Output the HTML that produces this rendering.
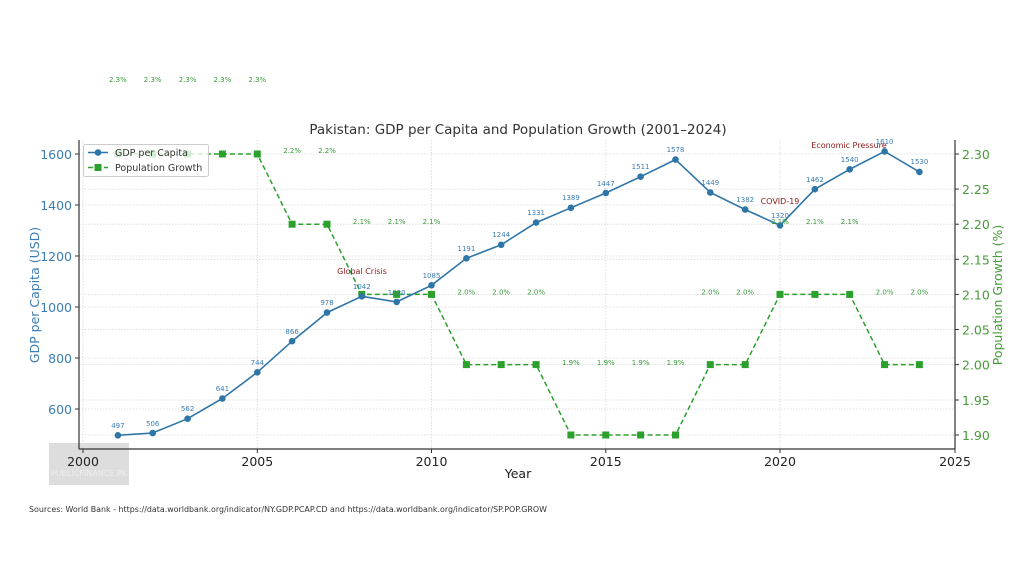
<!DOCTYPE html>
<html><head><meta charset="utf-8"><style>
html,body{margin:0;padding:0;background:#fff;}
svg{display:block;font-family:"DejaVu Sans","Liberation Sans",sans-serif;}
</style></head><body>
<svg width="1024" height="584" viewBox="0 0 1024 584" xmlns="http://www.w3.org/2000/svg">
<rect width="1024" height="584" fill="#fff"/>
<g stroke="#d8d8d8" stroke-width="0.8" stroke-dasharray="1.5,1.5">
<line x1="83" y1="140" x2="83" y2="449"/><line x1="257.3" y1="140" x2="257.3" y2="449"/><line x1="431.5" y1="140" x2="431.5" y2="449"/><line x1="605.8" y1="140" x2="605.8" y2="449"/><line x1="780" y1="140" x2="780" y2="449"/>
<line x1="79" y1="154" x2="955" y2="154"/><line x1="79" y1="205" x2="955" y2="205"/><line x1="79" y1="256" x2="955" y2="256"/><line x1="79" y1="307" x2="955" y2="307"/><line x1="79" y1="358" x2="955" y2="358"/><line x1="79" y1="409" x2="955" y2="409"/>
<line x1="79" y1="435" x2="955" y2="435"/><line x1="79" y1="400" x2="955" y2="400"/><line x1="79" y1="364.6" x2="955" y2="364.6"/><line x1="79" y1="329.5" x2="955" y2="329.5"/><line x1="79" y1="294.4" x2="955" y2="294.4"/><line x1="79" y1="259.3" x2="955" y2="259.3"/><line x1="79" y1="224.2" x2="955" y2="224.2"/><line x1="79" y1="189.1" x2="955" y2="189.1"/>
</g>
<rect x="49" y="443" width="80" height="42" fill="#d4d4d4" opacity="0.8"/>
<text x="89" y="476" font-size="8" fill="#eee" text-anchor="middle">PUBLICFINANCE.PK</text>
<g stroke="#333" stroke-width="1.2" fill="none">
<line x1="79" y1="140" x2="79" y2="449"/><line x1="955" y1="140" x2="955" y2="449"/><line x1="79" y1="449" x2="955" y2="449"/>
</g>
<g stroke="#333" stroke-width="1">
<line x1="83" y1="449" x2="83" y2="453"/><line x1="257.3" y1="449" x2="257.3" y2="453"/><line x1="431.5" y1="449" x2="431.5" y2="453"/><line x1="605.8" y1="449" x2="605.8" y2="453"/><line x1="780" y1="449" x2="780" y2="453"/><line x1="955" y1="449" x2="955" y2="453"/>
<line x1="75" y1="154" x2="79" y2="154"/><line x1="75" y1="205" x2="79" y2="205"/><line x1="75" y1="256" x2="79" y2="256"/><line x1="75" y1="307" x2="79" y2="307"/><line x1="75" y1="358" x2="79" y2="358"/><line x1="75" y1="409" x2="79" y2="409"/>
<line x1="955" y1="435" x2="959" y2="435"/><line x1="955" y1="400" x2="959" y2="400"/><line x1="955" y1="364.6" x2="959" y2="364.6"/><line x1="955" y1="329.5" x2="959" y2="329.5"/><line x1="955" y1="294.4" x2="959" y2="294.4"/><line x1="955" y1="259.3" x2="959" y2="259.3"/><line x1="955" y1="224.2" x2="959" y2="224.2"/><line x1="955" y1="189.1" x2="959" y2="189.1"/><line x1="955" y1="154" x2="959" y2="154"/>
</g>
<g font-size="12.5" fill="#222" text-anchor="middle">
<text x="83" y="466">2000</text><text x="257.3" y="466">2005</text><text x="431.5" y="466">2010</text><text x="605.8" y="466">2015</text><text x="780" y="466">2020</text><text x="955" y="466">2025</text>
</g>
<text x="518" y="478" font-size="12.5" fill="#222" text-anchor="middle">Year</text>
<g font-size="12.5" fill="#3b7db3" text-anchor="end">
<text x="72" y="159">1600</text><text x="72" y="210">1400</text><text x="72" y="261">1200</text><text x="72" y="312">1000</text><text x="72" y="363">800</text><text x="72" y="414">600</text>
</g>
<g font-size="12.5" fill="#4a9a3a">
<text x="962" y="440">1.90</text><text x="962" y="405">1.95</text><text x="962" y="369.6">2.00</text><text x="962" y="334.5">2.05</text><text x="962" y="299.4">2.10</text><text x="962" y="264.3">2.15</text><text x="962" y="229.2">2.20</text><text x="962" y="194.1">2.25</text><text x="962" y="159">2.30</text>
</g>
<text transform="translate(39,295) rotate(-90)" font-size="12.5" fill="#3b7db3" text-anchor="middle">GDP per Capita (USD)</text>
<text transform="translate(1002,295) rotate(-90)" font-size="12.5" fill="#4a9a3a" text-anchor="middle">Population Growth (%)</text>
<text x="518" y="134" font-size="13.5" fill="#333" text-anchor="middle">Pakistan: GDP per Capita and Population Growth (2001–2024)</text>
<polyline fill="none" stroke="#2ca02c" stroke-width="1.5" stroke-dasharray="5,3" points="117.9,154 152.7,154 187.6,154 222.4,154 257.3,154 292.1,224.2 327,224.2 361.8,294.4 396.7,294.4 431.5,294.4 466.4,364.6 501.2,364.6 536.1,364.6 570.9,435 605.8,435 640.6,435 675.5,435 710.3,364.6 745.2,364.6 780,294.4 814.9,294.4 849.7,294.4 884.6,364.6 919.4,364.6"/>
<g fill="#2ca02c">
<rect x="114.4" y="150.5" width="7" height="7"/><rect x="149.2" y="150.5" width="7" height="7"/><rect x="184.1" y="150.5" width="7" height="7"/><rect x="218.9" y="150.5" width="7" height="7"/><rect x="253.8" y="150.5" width="7" height="7"/>
<rect x="288.6" y="220.7" width="7" height="7"/><rect x="323.5" y="220.7" width="7" height="7"/>
<rect x="358.3" y="290.9" width="7" height="7"/><rect x="393.2" y="290.9" width="7" height="7"/><rect x="428" y="290.9" width="7" height="7"/>
<rect x="462.9" y="361.1" width="7" height="7"/><rect x="497.7" y="361.1" width="7" height="7"/><rect x="532.6" y="361.1" width="7" height="7"/>
<rect x="567.4" y="431.5" width="7" height="7"/><rect x="602.3" y="431.5" width="7" height="7"/><rect x="637.1" y="431.5" width="7" height="7"/><rect x="672" y="431.5" width="7" height="7"/>
<rect x="706.8" y="361.1" width="7" height="7"/><rect x="741.7" y="361.1" width="7" height="7"/>
<rect x="776.5" y="290.9" width="7" height="7"/><rect x="811.4" y="290.9" width="7" height="7"/><rect x="846.2" y="290.9" width="7" height="7"/>
<rect x="881.1" y="361.1" width="7" height="7"/><rect x="915.9" y="361.1" width="7" height="7"/>
</g>
<polyline fill="none" stroke="#2e75a8" stroke-width="1.6" points="117.9,435.3 152.7,433 187.6,418.7 222.4,398.5 257.3,372.3 292.1,341.2 327,312.6 361.8,296.3 396.7,301.9 431.5,285.3 466.4,258.3 501.2,244.8 536.1,222.6 570.9,207.8 605.8,193 640.6,176.7 675.5,159.6 710.3,192.5 745.2,209.6 780,225.4 814.9,189.2 849.7,169.3 884.6,151.4 919.4,171.9"/>
<g fill="#2e75a8">
<circle cx="117.9" cy="435.3" r="3.3"/><circle cx="152.7" cy="433" r="3.3"/><circle cx="187.6" cy="418.7" r="3.3"/><circle cx="222.4" cy="398.5" r="3.3"/><circle cx="257.3" cy="372.3" r="3.3"/><circle cx="292.1" cy="341.2" r="3.3"/><circle cx="327" cy="312.6" r="3.3"/><circle cx="361.8" cy="296.3" r="3.3"/><circle cx="396.7" cy="301.9" r="3.3"/><circle cx="431.5" cy="285.3" r="3.3"/><circle cx="466.4" cy="258.3" r="3.3"/><circle cx="501.2" cy="244.8" r="3.3"/><circle cx="536.1" cy="222.6" r="3.3"/><circle cx="570.9" cy="207.8" r="3.3"/><circle cx="605.8" cy="193" r="3.3"/><circle cx="640.6" cy="176.7" r="3.3"/><circle cx="675.5" cy="159.6" r="3.3"/><circle cx="710.3" cy="192.5" r="3.3"/><circle cx="745.2" cy="209.6" r="3.3"/><circle cx="780" cy="225.4" r="3.3"/><circle cx="814.9" cy="189.2" r="3.3"/><circle cx="849.7" cy="169.3" r="3.3"/><circle cx="884.6" cy="151.4" r="3.3"/><circle cx="919.4" cy="171.9" r="3.3"/>
</g>
<g font-size="7" fill="#3b7db3" text-anchor="middle">
<text x="117.9" y="428">497</text><text x="152.7" y="426">506</text><text x="187.6" y="411">562</text><text x="222.4" y="391">641</text><text x="257.3" y="365">744</text><text x="292.1" y="334">866</text><text x="327" y="305">978</text><text x="361.8" y="289">1042</text><text x="396.7" y="295">1020</text><text x="431.5" y="278">1085</text><text x="466.4" y="251">1191</text><text x="501.2" y="237">1244</text><text x="536.1" y="215">1331</text><text x="570.9" y="200">1389</text><text x="605.8" y="186">1447</text><text x="640.6" y="169">1511</text><text x="675.5" y="152">1578</text><text x="710.3" y="185">1449</text><text x="745.2" y="202">1382</text><text x="780" y="218">1320</text><text x="814.9" y="182">1462</text><text x="849.7" y="162">1540</text><text x="884.6" y="144">1610</text><text x="919.4" y="164">1530</text>
</g>
<g font-size="7" fill="#3a9a3a" text-anchor="middle">
<text x="117.9" y="82">2.3%</text><text x="152.7" y="82">2.3%</text><text x="187.6" y="82">2.3%</text><text x="222.4" y="82">2.3%</text><text x="257.3" y="82">2.3%</text>
<text x="292.1" y="153">2.2%</text><text x="327" y="153">2.2%</text>
<text x="361.8" y="224">2.1%</text><text x="396.7" y="224">2.1%</text><text x="431.5" y="224">2.1%</text>
<text x="466.4" y="294.5">2.0%</text><text x="501.2" y="294.5">2.0%</text><text x="536.1" y="294.5">2.0%</text>
<text x="570.9" y="365">1.9%</text><text x="605.8" y="365">1.9%</text><text x="640.6" y="365">1.9%</text><text x="675.5" y="365">1.9%</text>
<text x="710.3" y="294.5">2.0%</text><text x="745.2" y="294.5">2.0%</text>
<text x="780" y="224">2.1%</text><text x="814.9" y="224">2.1%</text><text x="849.7" y="224">2.1%</text>
<text x="884.6" y="294.5">2.0%</text><text x="919.4" y="294.5">2.0%</text>
</g>
<g font-size="8" fill="#8b1a1a" text-anchor="middle">
<text x="362" y="274">Global Crisis</text><text x="780" y="204">COVID-19</text><text x="849" y="148">Economic Pressure</text>
</g>
<rect x="83.5" y="144.5" width="125" height="32" fill="#fff" fill-opacity="0.8" stroke="#ccc" rx="2"/>
<line x1="88" y1="152.5" x2="108" y2="152.5" stroke="#2e75a8" stroke-width="1.6"/><circle cx="98" cy="152.5" r="3.3" fill="#2e75a8"/>
<text x="115" y="156" font-size="9.5" fill="#333">GDP per Capita</text>
<line x1="88" y1="167.5" x2="108" y2="167.5" stroke="#2ca02c" stroke-width="1.5" stroke-dasharray="5,3"/><rect x="94.5" y="164" width="7" height="7" fill="#2ca02c"/>
<text x="115" y="171" font-size="9.5" fill="#333">Population Growth</text>
<text x="29" y="512" font-size="7.6" fill="#333" textLength="518" lengthAdjust="spacingAndGlyphs">Sources: World Bank - https://data.worldbank.org/indicator/NY.GDP.PCAP.CD and https://data.worldbank.org/indicator/SP.POP.GROW</text>
</svg>
</body></html>
